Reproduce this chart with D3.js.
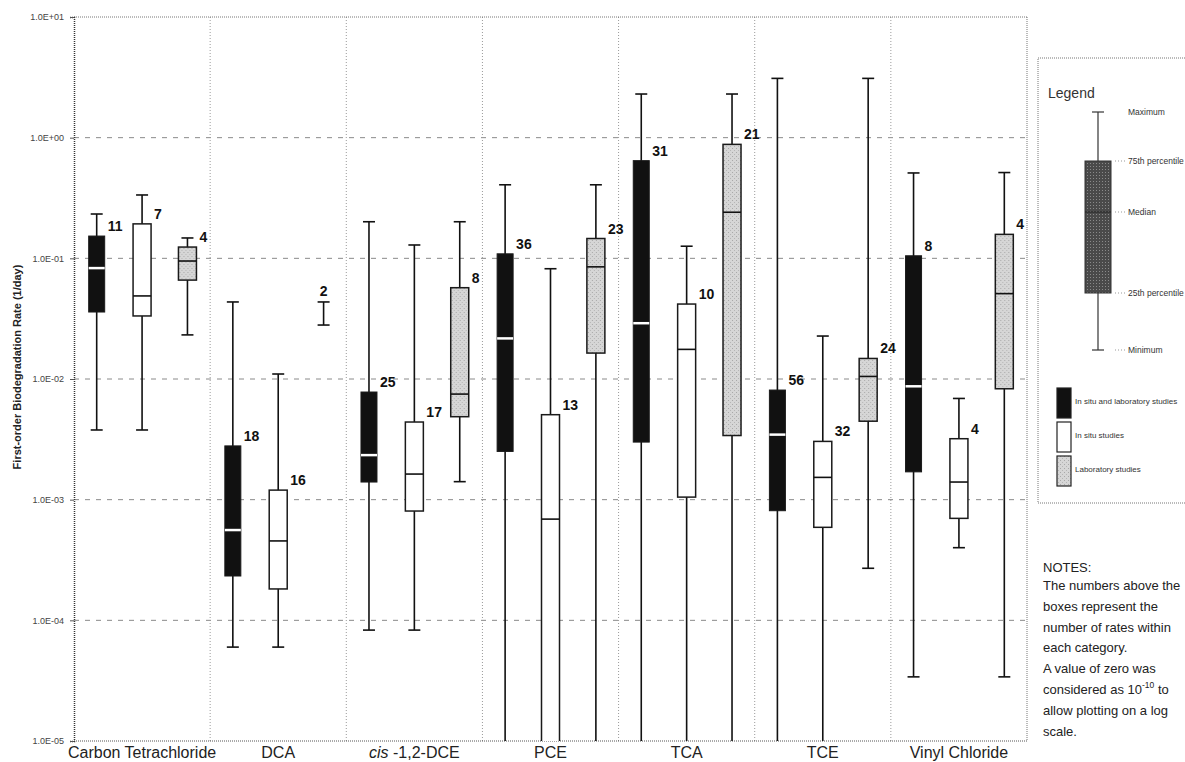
<!DOCTYPE html>
<html>
<head>
<meta charset="utf-8">
<script src="https://cdn.jsdelivr.net/npm/d3@7"></script>
<style>
  body { margin: 0; background: #fff; overflow: hidden; }
  svg { display: block; }
  text { font-family: Arial, "Liberation Sans", sans-serif; }
</style>
</head>
<body>
<svg id="chart" width="1185" height="762"></svg>
<script>
// categories and study types
var categories = ["Carbon Tetrachloride", "DCA", "cis-1,2-DCE", "PCE", "TCA", "TCE", "Vinyl Chloride"];
var studyTypes = ["both", "insitu", "lab"];

// a zero rate is plotted as 1e-10 (off the bottom of the log axis)
var ZERO = 1e-10;

// [max, q3, median, q1, min] per category
var bothStats = [
  [0.233, 0.153, 0.083, 0.0359, 0.00378],
  [0.0435, 0.00279, 0.00056, 0.000233, 0.00006],
  [0.201, 0.0078, 0.00234, 0.0014, 0.000083],
  [0.407, 0.109, 0.0217, 0.00251, ZERO],
  [2.3, 0.645, 0.029, 0.003, ZERO],
  [3.1, 0.0081, 0.00346, 0.00081, ZERO],
  [0.51, 0.105, 0.0087, 0.0017, 0.000034]
];
var insituStats = [
  [0.335, 0.193, 0.0488, 0.0333, 0.00378],
  [0.011, 0.0012, 0.000455, 0.000182, 0.00006],
  [0.129, 0.0044, 0.00163, 0.000805, 0.000083],
  [0.082, 0.00506, 0.00069, ZERO, ZERO],
  [0.126, 0.0418, 0.0176, 0.00105, ZERO],
  [0.0227, 0.00304, 0.00153, 0.00059, ZERO],
  [0.0069, 0.0032, 0.0014, 0.0007, 0.0004]
];
var labStats = [
  [0.1475, 0.124, 0.095, 0.066, 0.0232],
  [0.0435, null, null, null, 0.028],
  [0.201, 0.0571, 0.0075, 0.00487, 0.00141],
  [0.407, 0.146, 0.085, 0.0164, ZERO],
  [2.3, 0.88, 0.241, 0.0034, ZERO],
  [3.1, 0.0148, 0.0105, 0.00447, 0.00027],
  [0.514, 0.158, 0.051, 0.0083, 0.000034]
];

// number of rates in each box
var bothCounts = [11, 18, 25, 36, 31, 56, 8];
var insituCounts = [7, 16, 17, 13, 10, 32, 4];
var labCounts = [4, 2, 8, 23, 21, 24, 4];

var yTicks = [10, 1, 0.1, 0.01, 0.001, 0.0001, 0.00001];
var yTickLabels = ["1.0E+01", "1.0E+00", "1.0E-01", "1.0E-02", "1.0E-03", "1.0E-04", "1.0E-05"];

var legendItems = ["In situ and laboratory studies", "In situ studies", "Laboratory studies"];
var legendParts = ["Maximum", "75th percentile", "Median", "25th percentile", "Minimum"];
var notes = ["The numbers above the", "boxes represent the", "number of rates within",
  "each category.", "A value of zero was", "considered as 10|-10| to",
  "allow plotting on a log", "scale."];

var plot = { left: 74, right: 1027, top: 17, bottom: 741 };

var svg = d3.select("#chart");

// fill patterns for the stippled boxes
var defs = svg.append("defs");
var lightDots = defs.append("pattern").attr("id", "labFill")
  .attr("width", 4).attr("height", 4).attr("patternUnits", "userSpaceOnUse");
lightDots.append("rect").attr("width", 4).attr("height", 4).attr("fill", "#d6d6d6");
lightDots.append("rect").attr("x", 0).attr("y", 0).attr("width", 1).attr("height", 1).attr("fill", "#a8a8a8");
lightDots.append("rect").attr("x", 2).attr("y", 2).attr("width", 1).attr("height", 1).attr("fill", "#b5b5b5");
var darkDots = defs.append("pattern").attr("id", "legendFill")
  .attr("width", 3).attr("height", 3).attr("patternUnits", "userSpaceOnUse");
darkDots.append("rect").attr("width", 3).attr("height", 3).attr("fill", "#4a4a4a");
darkDots.append("rect").attr("x", 1).attr("y", 1).attr("width", 1).attr("height", 1).attr("fill", "#8a8a8a");

defs.append("clipPath").attr("id", "plotClip")
  .append("rect")
  .attr("x", plot.left).attr("y", plot.top)
  .attr("width", plot.right - plot.left).attr("height", plot.bottom - plot.top);

// scales
var x = d3.scaleBand().domain(categories).range([plot.left, plot.right]).padding(0);
var inner = d3.scalePoint().domain(studyTypes).range([0, x.bandwidth()]).padding(0.5);
var y = d3.scaleLog().domain([1e-5, 10]).range([plot.bottom, plot.top]);

// horizontal grid lines (dashed)
svg.append("g").selectAll("line")
  .data(yTicks.slice(1, -1))
  .enter().append("line")
  .attr("x1", plot.left).attr("x2", plot.right)
  .attr("y1", function(d) { return y(d); }).attr("y2", function(d) { return y(d); })
  .attr("stroke", "#8a8a8a").attr("stroke-width", 1).attr("stroke-dasharray", "5,6");

// category separators (dotted)
svg.append("g").selectAll("line")
  .data(categories.slice(1))
  .enter().append("line")
  .attr("x1", function(d) { return x(d); }).attr("x2", function(d) { return x(d); })
  .attr("y1", plot.top).attr("y2", plot.bottom)
  .attr("stroke", "#9a9a9a").attr("stroke-width", 1).attr("stroke-dasharray", "1,2");

// frame
svg.append("line").attr("x1", plot.left).attr("x2", plot.right).attr("y1", plot.top).attr("y2", plot.top)
  .attr("stroke", "#777").attr("stroke-dasharray", "1,1");
svg.append("line").attr("x1", plot.right).attr("x2", plot.right).attr("y1", plot.top).attr("y2", plot.bottom)
  .attr("stroke", "#777").attr("stroke-dasharray", "1,1");
svg.append("line").attr("x1", plot.left).attr("x2", plot.right).attr("y1", plot.bottom).attr("y2", plot.bottom)
  .attr("stroke", "#555").attr("stroke-dasharray", "1,1");

// left axis
var yAxis = d3.axisLeft(y).tickValues(yTicks).tickSize(4)
  .tickFormat(function(d, i) { return yTickLabels[i]; });
var axisG = svg.append("g").attr("transform", "translate(" + plot.left + ",0)").call(yAxis);
axisG.select(".domain").attr("stroke", "#333").attr("stroke-dasharray", "1,1").attr("stroke-width", 1.5);
axisG.selectAll(".tick line").attr("stroke", "#555");
axisG.selectAll(".tick text").attr("x", -10).attr("dy", "0.32em")
  .attr("fill", "#444").style("font-size", "9px").style("font-family", "Arial, 'Liberation Sans', sans-serif");

svg.append("text")
  .attr("transform", "translate(21,367) rotate(-90)")
  .attr("text-anchor", "middle")
  .attr("fill", "#222")
  .style("font-size", "11px")
  .style("font-weight", "bold")
  .text("First-order Biodegradation Rate (1/day)");

// category labels
var catLabels = svg.append("g").selectAll("text")
  .data(categories)
  .enter().append("text")
  .attr("x", function(d) { return x(d) + x.bandwidth() / 2; })
  .attr("y", 758)
  .attr("text-anchor", "middle")
  .attr("fill", "#222")
  .style("font-size", "16px");
catLabels.each(function(d) {
  var t = d3.select(this);
  if (d.indexOf("cis-") === 0) {
    t.append("tspan").style("font-style", "italic").text("cis");
    t.append("tspan").text(" -" + d.slice(4));
  } else {
    t.text(d);
  }
});

// boxes
var boxes = [];
var statsByType = { both: bothStats, insitu: insituStats, lab: labStats };
var countsByType = { both: bothCounts, insitu: insituCounts, lab: labCounts };
categories.forEach(function(c, i) {
  studyTypes.forEach(function(s) {
    var st = statsByType[s][i];
    boxes.push({ cat: c, type: s, max: st[0], q3: st[1], med: st[2], q1: st[3], min: st[4], n: countsByType[s][i] });
  });
});

var boxG = svg.append("g").attr("clip-path", "url(#plotClip)");
var capW = 12;

var g = boxG.selectAll("g.box")
  .data(boxes)
  .enter().append("g")
  .attr("class", "box")
  .attr("transform", function(d) { return "translate(" + (x(d.cat) + inner(d.type)) + ",0)"; });

g.append("line")
  .attr("x1", 0).attr("x2", 0)
  .attr("y1", function(d) { return y(d.max); })
  .attr("y2", function(d) { return y(d.min); })
  .attr("stroke", "#111").attr("stroke-width", 1.6);

g.selectAll("line.cap")
  .data(function(d) { return [d.max, d.min]; })
  .enter().append("line")
  .attr("class", "cap")
  .attr("x1", -capW / 2).attr("x2", capW / 2)
  .attr("y1", function(v) { return y(v); }).attr("y2", function(v) { return y(v); })
  .attr("stroke", "#111").attr("stroke-width", 1.6);

var withBox = g.filter(function(d) { return d.q3 != null; });

withBox.append("rect")
  .attr("x", function(d) { return d.type === "both" ? -8 : -9; })
  .attr("width", function(d) { return d.type === "both" ? 16 : 18; })
  .attr("y", function(d) { return y(d.q3); })
  .attr("height", function(d) { return y(d.q1) - y(d.q3); })
  .attr("fill", function(d) { return d.type === "both" ? "#111" : d.type === "insitu" ? "#fff" : "url(#labFill)"; })
  .attr("stroke", "#1a1a1a")
  .attr("stroke-width", function(d) { return d.type === "both" ? 1 : 1.5; });

withBox.append("line")
  .attr("x1", function(d) { return d.type === "both" ? -8 : -9; })
  .attr("x2", function(d) { return d.type === "both" ? 8 : 9; })
  .attr("y1", function(d) { return y(d.med); })
  .attr("y2", function(d) { return y(d.med); })
  .attr("stroke", function(d) { return d.type === "both" ? "#fff" : "#111"; })
  .attr("stroke-width", function(d) { return d.type === "both" ? 2.5 : 1.6; });

// counts
svg.append("g").selectAll("text")
  .data(boxes)
  .enter().append("text")
  .attr("x", function(d) {
    var cx = x(d.cat) + inner(d.type);
    return d.q3 == null ? cx : cx + (d.type === "both" ? 11 : 12);
  })
  .attr("y", function(d) { return d.q3 == null ? y(d.max) - 6 : y(d.q3) - 5; })
  .attr("text-anchor", function(d) { return d.q3 == null ? "middle" : "start"; })
  .attr("fill", "#111")
  .style("font-size", "14px")
  .style("font-weight", "bold")
  .text(function(d) { return d.n; });

// legend panel
var lg = svg.append("g");
lg.append("rect").attr("x", 1038).attr("y", 58).attr("width", 200).attr("height", 445)
  .attr("fill", "none").attr("stroke", "#777").attr("stroke-dasharray", "1,1");
lg.append("text").attr("x", 1048).attr("y", 98).attr("fill", "#333").style("font-size", "14px").text("Legend");

var sampleY = [112, 161, 212, 293, 350];
lg.append("line").attr("x1", 1098).attr("x2", 1098).attr("y1", sampleY[0]).attr("y2", sampleY[4])
  .attr("stroke", "#333").attr("stroke-width", 1.2);
lg.selectAll("line.lcap").data([sampleY[0], sampleY[4]]).enter().append("line")
  .attr("class", "lcap")
  .attr("x1", 1092).attr("x2", 1104)
  .attr("y1", function(v) { return v; }).attr("y2", function(v) { return v; })
  .attr("stroke", "#333").attr("stroke-width", 1.2);
lg.append("rect").attr("x", 1085).attr("y", sampleY[1]).attr("width", 26).attr("height", sampleY[3] - sampleY[1])
  .attr("fill", "url(#legendFill)").attr("stroke", "#333").attr("stroke-width", 1);
lg.append("line").attr("x1", 1085).attr("x2", 1111).attr("y1", sampleY[2]).attr("y2", sampleY[2])
  .attr("stroke", "#222").attr("stroke-width", 1);

lg.selectAll("text.part").data(legendParts).enter().append("text")
  .attr("class", "part")
  .attr("x", 1128)
  .attr("y", function(d, i) { return sampleY[i] + 3; })
  .attr("fill", "#333")
  .style("font-size", "8.5px")
  .text(function(d) { return d; });
lg.selectAll("line.lead").data(legendParts.slice(1)).enter().append("line")
  .attr("class", "lead")
  .attr("x1", 1115).attr("x2", 1125)
  .attr("y1", function(d, i) { return sampleY[i + 1]; })
  .attr("y2", function(d, i) { return sampleY[i + 1]; })
  .attr("stroke", "#999").attr("stroke-dasharray", "1,2");

var swatchY = [388, 422, 456];
var swatchFill = ["#111", "#fff", "url(#labFill)"];
lg.selectAll("rect.sw").data(legendItems).enter().append("rect")
  .attr("class", "sw")
  .attr("x", 1057).attr("width", 14)
  .attr("y", function(d, i) { return swatchY[i]; })
  .attr("height", 30)
  .attr("fill", function(d, i) { return swatchFill[i]; })
  .attr("stroke", "#222").attr("stroke-width", 1.2);
lg.selectAll("text.sw").data(legendItems).enter().append("text")
  .attr("class", "sw")
  .attr("x", 1075)
  .attr("y", function(d, i) { return swatchY[i] + 16; })
  .attr("fill", "#333")
  .style("font-size", "8px")
  .text(function(d) { return d; });

// notes
svg.append("text").attr("x", 1043).attr("y", 572).attr("fill", "#222")
  .style("font-size", "13px").text("NOTES:");
var noteText = svg.append("g").selectAll("text")
  .data(notes)
  .enter().append("text")
  .attr("x", 1043)
  .attr("y", function(d, i) { return 590 + i * 20.8; })
  .attr("fill", "#222")
  .style("font-size", "13px");
noteText.each(function(d) {
  var parts = d.split("|");
  var t = d3.select(this);
  t.append("tspan").text(parts[0]);
  if (parts.length > 1) {
    t.append("tspan").attr("dy", -6).style("font-size", "8.5px").text(parts[1]);
    t.append("tspan").attr("dy", 6).text(parts[2]);
  }
});
</script>
</body>
</html>
